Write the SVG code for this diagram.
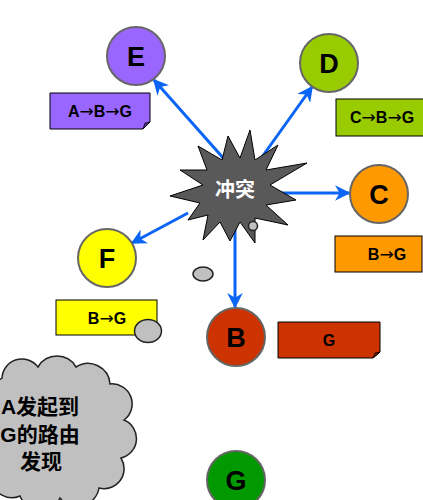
<svg xmlns="http://www.w3.org/2000/svg" width="423" height="500" viewBox="0 0 423 500">
<style>
.node{stroke:#666;stroke-width:2}
.lbl{font-family:"Liberation Sans",Arial,sans-serif;font-weight:bold;font-size:27px;fill:#000;text-anchor:middle}
.box{stroke:#000;stroke-width:1}
.bt{font-family:"Liberation Sans",Arial,sans-serif;font-weight:bold;font-size:16px;fill:#000;text-anchor:middle}
.ar{font-family:"DejaVu Sans",sans-serif;font-weight:normal;font-size:17px}
.conn{stroke:#0A64F5;stroke-width:3;fill:none;marker-end:url(#ah)}
.bub{fill:#C0C0C0;stroke:#222;stroke-width:1.5}
.cjk{font-family:"Liberation Sans","Noto Sans CJK SC",sans-serif;font-weight:bold}
</style>
<defs>
<marker id="ah" viewBox="0 0 10 10" markerWidth="5.2" markerHeight="5.2" refX="9" refY="5" orient="auto" markerUnits="strokeWidth">
<path d="M0,0 L10,5 L0,10 L3,5 Z" fill="#0A64F5"/>
</marker>
</defs>
<rect width="423" height="500" fill="#fff"/>
<g id="connectors">
<line class="conn" x1="225" y1="160" x2="154" y2="80"/>
<line class="conn" x1="262" y1="157" x2="312" y2="87"/>
<line class="conn" x1="280" y1="193" x2="349" y2="193"/>
<line class="conn" x1="188" y1="213" x2="132" y2="243"/>
<line class="conn" x1="235" y1="225" x2="235" y2="307"/>
</g>
<g id="conflict">
<polygon points="307,163 270,185 296,200 266,205 288,225 255,218 255,243 240,222 230,241 220,222 203,240 208,215 188,220 200,203 170,196 203,185 180,170 207,170 198,146 222,160 228,136 240,158 250,130 255,160 278,145 266,170" fill="#595959" stroke="#000" stroke-width="1"/>
<text x="235" y="197" class="cjk" font-size="20" fill="#fff" text-anchor="middle">冲突</text>
</g>
<g id="bubbles">
<circle class="bub" cx="253" cy="226" r="4.5"/>
<ellipse class="bub" cx="203" cy="274" rx="10" ry="7"/>
</g>
<g id="E">
<circle class="node" cx="136" cy="56" r="29" fill="#9966FF"/>
<text class="lbl" x="136" y="66">E</text>
</g>
<g id="E-box">
<path class="box" d="M50,93 H150 V122 L143,129 H50 Z" fill="#9966FF"/>
<path d="M150,122 L143,129 L145,123 Z" fill="#5a3a99" stroke="#000" stroke-width="0.8"/>
<text class="bt" x="100" y="117">A<tspan class="ar">→</tspan>B<tspan class="ar">→</tspan>G</text>
</g>
<g id="D">
<circle class="node" cx="329" cy="63" r="29" fill="#99CC00"/>
<text class="lbl" x="329" y="73">D</text>
</g>
<g id="D-box">
<rect class="box" x="336" y="99" width="92" height="37" fill="#99CC00"/>
<text class="bt" x="350" y="123" style="text-anchor:start">C<tspan class="ar">→</tspan>B<tspan class="ar">→</tspan>G</text>
</g>
<g id="C">
<circle class="node" cx="379" cy="194" r="29" fill="#FF9900"/>
<text class="lbl" x="379" y="204">C</text>
</g>
<g id="C-box">
<rect class="box" x="335" y="236" width="87" height="36" fill="#FF9900"/>
<text class="bt" x="387" y="260">B<tspan class="ar">→</tspan>G</text>
</g>
<g id="F">
<circle class="node" cx="107" cy="258" r="29" fill="#FFFF00"/>
<text class="lbl" x="107" y="268">F</text>
</g>
<g id="F-box">
<rect class="box" x="56" y="300" width="101" height="35" fill="#FFFF00"/>
<text class="bt" x="107" y="324">B<tspan class="ar">→</tspan>G</text>
<ellipse class="bub" cx="148" cy="331" rx="13.5" ry="11.5"/>
</g>
<g id="B">
<circle class="node" cx="236" cy="337" r="29" fill="#CC3300"/>
<text class="lbl" x="236" y="347">B</text>
</g>
<g id="G-box">
<path class="box" d="M278,322 H380 V352 L373,358 H278 Z" fill="#CC3300"/>
<path d="M380,352 L373,358 L375,353 Z" fill="#7a1e00" stroke="#000" stroke-width="0.8"/>
<text class="bt" x="329" y="346">G</text>
</g>
<g id="cloud">
<path d="M2,378 A20,20 0 0 1 38,367 A22,22 0 0 1 76,367 A22,22 0 0 1 110,384 A20,20 0 0 1 124,420 A20,20 0 0 1 121,458 A20,20 0 0 1 99,488 A22,22 0 0 1 60,498 A22,22 0 0 1 20,496 A20,20 0 0 1 -8,480 L-8,385 Z" fill="#C0C0C0" stroke="#222" stroke-width="1.5"/>
<text class="cjk" font-size="21" fill="#000" text-anchor="middle" x="40" y="414">A发起到</text>
<text class="cjk" font-size="21" fill="#000" text-anchor="middle" x="40" y="442">G的路由</text>
<text class="cjk" font-size="21" fill="#000" text-anchor="middle" x="41" y="469">发现</text>
</g>
<g id="G">
<circle class="node" cx="236" cy="480" r="29" fill="#009900"/>
<text class="lbl" x="236" y="490">G</text>
</g>
</svg>
